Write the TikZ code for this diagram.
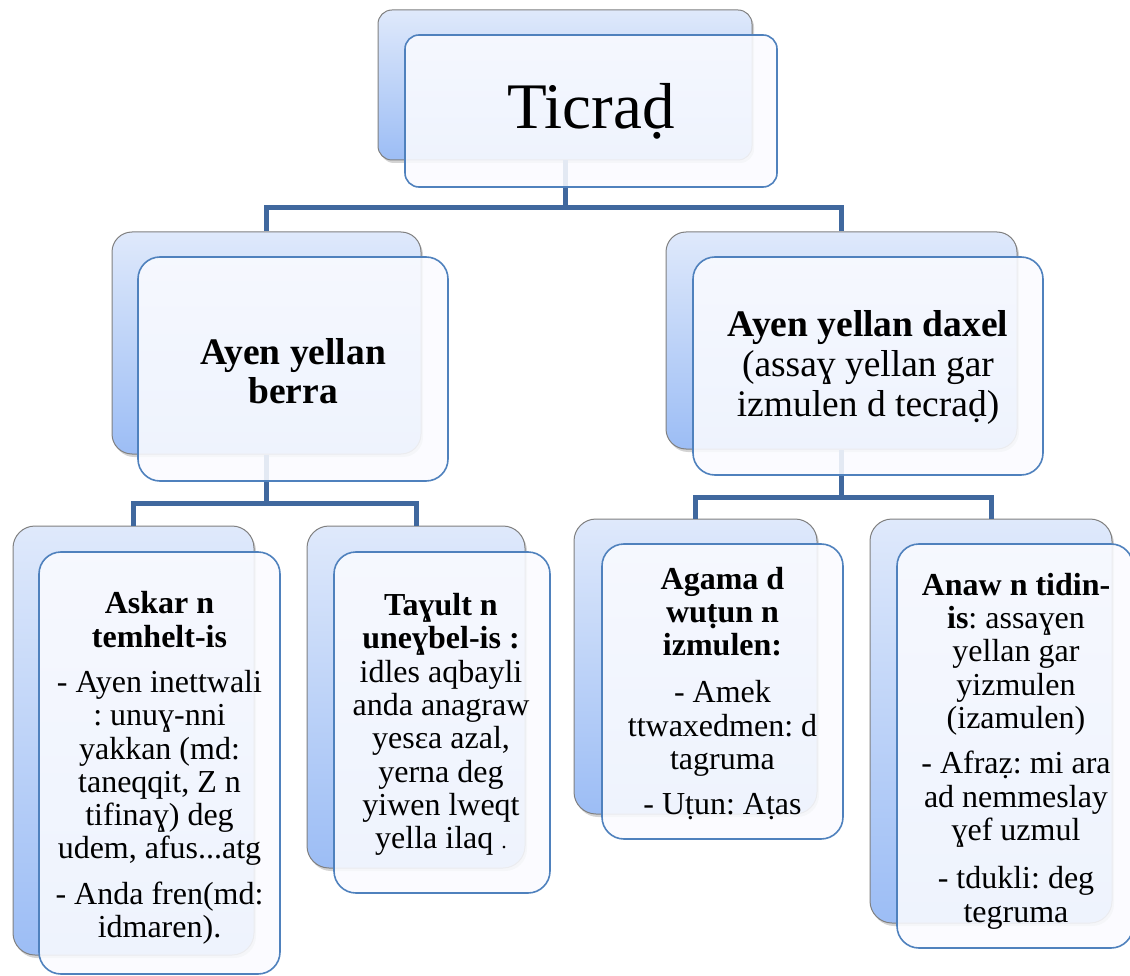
\documentclass[tikz,border=0pt]{standalone}
\usepackage{fontspec}
\setmainfont{Liberation Serif}
\frenchspacing
\usetikzlibrary{shadows}
\definecolor{connc}{RGB}{64,104,158}
\definecolor{frontb}{RGB}{79,129,189}
\definecolor{backb}{RGB}{128,128,128}
\definecolor{backtop}{RGB}{223,233,251}
\definecolor{backbot}{RGB}{156,189,245}
\definecolor{frontf}{RGB}{250,251,255}
\tikzset{
  backbox/.style={draw=backb, line width=1pt, top color=backtop, bottom color=backbot,
    rounded corners=#1, inner sep=0pt,
    drop shadow={opacity=0.35, shadow xshift=2pt, shadow yshift=-3pt}},
  backbox/.default=20pt,
  frontbox/.style={draw=frontb, line width=1.6pt, fill=frontf, fill opacity=0.88,
    rounded corners=#1, inner sep=0pt},
  frontbox/.default=22pt,
  txt/.style={align=center, inner sep=0pt},
  conn/.style={draw=connc, line width=5pt, line join=miter},
  bottomtxt/.style={txt, font=\fontsize{32}{33.3}\selectfont},
  midtxt/.style={txt, font=\fontsize{37.5}{40}\selectfont},
}
\begin{document}
\begin{tikzpicture}[x=1pt, y=-1pt]
\useasboundingbox (0,0) rectangle (1130,976);
% back boxes
\node[backbox=14pt, minimum width=374pt, minimum height=150pt] (tb) at (565,85) {};
\node[backbox, minimum width=309pt, minimum height=222pt] (mlb) at (266.5,343) {};
\node[backbox, minimum width=351pt, minimum height=217pt] (mrb) at (841.5,340.5) {};
\node[backbox=22pt, minimum width=241pt, minimum height=429pt] (b1b) at (133.5,740.5) {};
\node[backbox=22pt, minimum width=218pt, minimum height=342pt] (b2b) at (416,697) {};
\node[backbox=22pt, minimum width=243pt, minimum height=295pt] (b3b) at (695.5,666.5) {};
\node[backbox=22pt, minimum width=242pt, minimum height=404pt] (b4b) at (991,721) {};
% connectors
\coordinate (j0) at (565,208);
\coordinate (j1) at (266.5,503);
\coordinate (j2) at (841.5,497);
\draw[conn] (tb.south) -- (j0) -| (mlb.north);
\draw[conn] (j0) -| (mrb.north);
\draw[conn] (mlb.south) -- (j1) -| (b1b.north);
\draw[conn] (j1) -| (b2b.north);
\draw[conn] (mrb.south) -- (j2) -| (b3b.north);
\draw[conn] (j2) -| (b4b.north);
% front boxes
\node[frontbox=14pt, minimum width=372pt, minimum height=152pt] (tf) at (591,111) {};
\node[frontbox, minimum width=310pt, minimum height=224pt] (mlf) at (293,369) {};
\node[frontbox, minimum width=350pt, minimum height=218pt] (mrf) at (868,366) {};
\node[frontbox, minimum width=241pt, minimum height=422pt] (b1f) at (159.5,763) {};
\node[frontbox, minimum width=216pt, minimum height=341pt] (b2f) at (442,722.5) {};
\node[frontbox, minimum width=241pt, minimum height=295pt] (b3f) at (722.5,691.5) {};
\node[frontbox, minimum width=236pt, minimum height=404pt] (b4f) at (1015,746) {};
% texts
\node[txt, font=\fontsize{65}{70}\selectfont] (tt) at (591,111) {Ticraḍ};
\node[midtxt, font=\fontsize{37.5}{38.5}\selectfont] (mlt) at (293,371) {\textbf{Ayen yellan}\\\textbf{berra}};
\node[midtxt] (mrt) at (868,367) {\textbf{Ayen yellan daxel}\\(assaɣ yellan gar\\izmulen d tecraḍ)};
\node[bottomtxt] (b1t) at (159.5,768)
  {\textbf{Askar n}\\\textbf{temhelt-is}\\[12pt]- Ayen inettwali\\: unuɣ-nni\\yakkan (md:\\taneqqit, Z n\\tifinaɣ) deg\\udem, afus...atg\\[12pt]- Anda fren(md:\\idmaren).};
\node[bottomtxt] (b2t) at (441,724.5)
  {\textbf{Taɣult n}\\\textbf{uneɣbel-is :}\\idles aqbayli\\anda anagraw\\yesɛa azal,\\yerna deg\\yiwen lweqt\\yella ilaq {\fontsize{22}{22}\selectfont .}};
\node[bottomtxt] (b3t) at (722.5,693.5)
  {\textbf{Agama d}\\\textbf{wuṭun n}\\\textbf{izmulen:}\\[14pt]- Amek\\ttwaxedmen: d\\tagruma\\[12pt]- Uṭun: Aṭas};
\node[bottomtxt] (b4t) at (1016,751)
  {\textbf{Anaw n tidin-}\\\textbf{is}: assaɣen\\yellan gar\\yizmulen\\(izamulen)\\[12pt]- Afraẓ: mi ara\\ad nemmeslay\\ɣef uzmul\\[15pt]- tdukli: deg\\tegruma};
\end{tikzpicture}
\end{document}
